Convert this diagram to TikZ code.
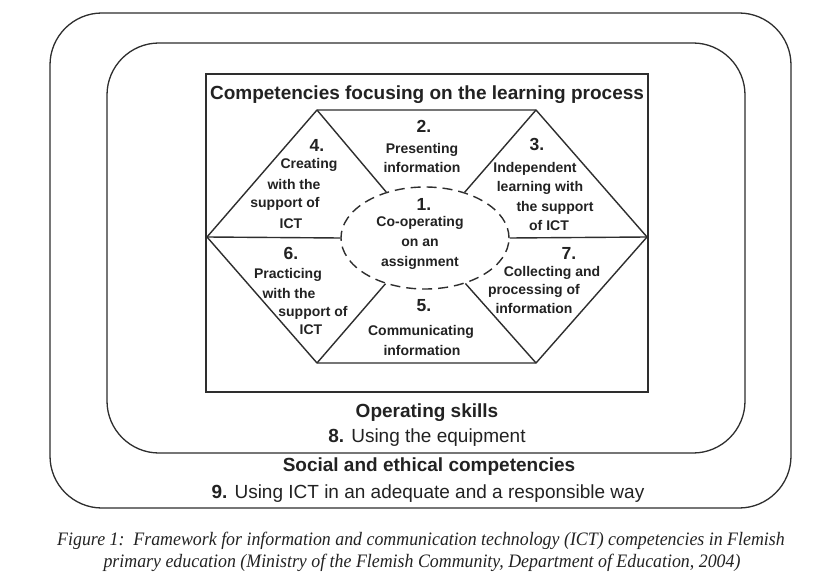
\documentclass[tikz,border=0pt]{standalone}
\usepackage{fontspec}
\setmainfont{Liberation Sans}
\newfontfamily\capfont[FakeStretch=0.94]{Liberation Serif}
\usetikzlibrary{shapes.geometric}
\definecolor{ink}{HTML}{222222}
\definecolor{linec}{HTML}{2E2E2E}
\begin{document}
\begin{tikzpicture}[x=1pt,y=-1pt,
  lbl/.style={font=\fontsize{14}{16}\selectfont\bfseries, text=ink, inner sep=0pt, anchor=base},
  num/.style={font=\fontsize{17.5}{20}\selectfont\bfseries, text=ink, inner sep=0pt, anchor=base},
  head/.style={font=\fontsize{19}{22}\selectfont\bfseries, text=ink, inner sep=0pt, anchor=base},
  plaintxt/.style={font=\fontsize{19}{22}\selectfont, text=ink, inner sep=0pt, anchor=base},
  captxt/.style={font=\capfont\itshape\fontsize{19}{22}\selectfont, text=ink, inner sep=0pt, anchor=base},
  frame/.style={draw=linec, line width=1.3pt},
  hexline/.style={draw=linec, line width=1.4pt, line join=miter},
  dashell/.style={draw=linec, line width=1.4pt, dash pattern=on 10pt off 6pt}
]
\useasboundingbox (0,0) rectangle (837,585);
\fill[white] (0,0) rectangle (837,585);
% frames
\draw[frame, rounded corners=52pt] (50,13) rectangle (791,508);
\draw[frame, rounded corners=52pt] (107,43) rectangle (745,453);
\draw[draw=linec, line width=1.8pt] (206,74) rectangle (648,392);
% hexagon
\coordinate (htl) at (317,110);
\coordinate (htr) at (536,110);
\coordinate (hr) at (647,237);
\coordinate (hbr) at (536,363);
\coordinate (hbl) at (317,363);
\coordinate (hl) at (207,237);
\draw[hexline] (htl) -- (htr) -- (hr) -- (hbr) -- (hbl) -- (hl) -- cycle;
\node[ellipse, dashell, minimum width=168pt, minimum height=102pt, inner sep=0pt] (ell) at (425,238) {};
\draw[hexline] (htl) -- (ell);
\draw[hexline] (htr) -- (ell);
\draw[hexline] (hbl) -- (ell);
\draw[hexline] (hbr) -- (ell);
\draw[hexline] (hl) -- (ell.west);
\draw[hexline] (hr) -- (ell.east);
% title
\node[head] (title) at (427,100) {Competencies focusing on the learning process};
% 2
\node[num] (n2) at (424,133) {2.};
\node[lbl] (t2a) at (422,154) {Presenting};
\node[lbl] (t2b) at (422,173) {information};
% 4
\node[num] (n4) at (317,152) {4.};
\node[lbl] (t4a) at (309,169) {Creating};
\node[lbl] (t4b) at (294,190) {with the};
\node[lbl] (t4c) at (285,208) {support of};
\node[lbl] (t4d) at (291,229) {ICT};
% 3
\node[num] (n3) at (537,151) {3.};
\node[lbl] (t3a) at (535,173) {Independent};
\node[lbl] (t3b) at (540,192) {learning with};
\node[lbl] (t3c) at (555,212) {the support};
\node[lbl] (t3d) at (549,231) {of ICT};
% 1
\node[num] (n1) at (424,211) {1.};
\node[lbl] (t1a) at (420,227) {Co-operating};
\node[lbl] (t1b) at (420,247) {on an};
\node[lbl] (t1c) at (420,266) {assignment};
% 6
\node[num] (n6) at (291,259) {6.};
\node[lbl] (t6a) at (288,278) {Practicing};
\node[lbl] (t6b) at (289,298) {with the};
\node[lbl] (t6c) at (313,316) {support of};
\node[lbl] (t6d) at (311,334) {ICT};
% 7
\node[num] (n7) at (569,259) {7.};
\node[lbl] (t7a) at (552,276) {Collecting and};
\node[lbl] (t7b) at (534,294) {processing of};
\node[lbl] (t7c) at (534,313) {information};
% 5
\node[num] (n5) at (424,311) {5.};
\node[lbl] (t5a) at (421,335) {Communicating};
\node[lbl] (t5b) at (422,355) {information};
% bottom
\node[head] (ops) at (427,417) {Operating skills};
\node[plaintxt] (eq) at (427,442) {\textbf{8.} Using the equipment};
\node[head] (soc) at (429,471) {Social and ethical competencies};
\node[plaintxt] (ict) at (428,498) {\textbf{9.} Using ICT in an adequate and a responsible way};
% caption
\node[captxt] (cap1) at (421,545) {Figure 1:\ \ Framework for information and communication technology (ICT) competencies in Flemish};
\node[captxt] (cap2) at (422,567) {primary education (Ministry of the Flemish Community, Department of Education, 2004)};
\end{tikzpicture}
\end{document}
